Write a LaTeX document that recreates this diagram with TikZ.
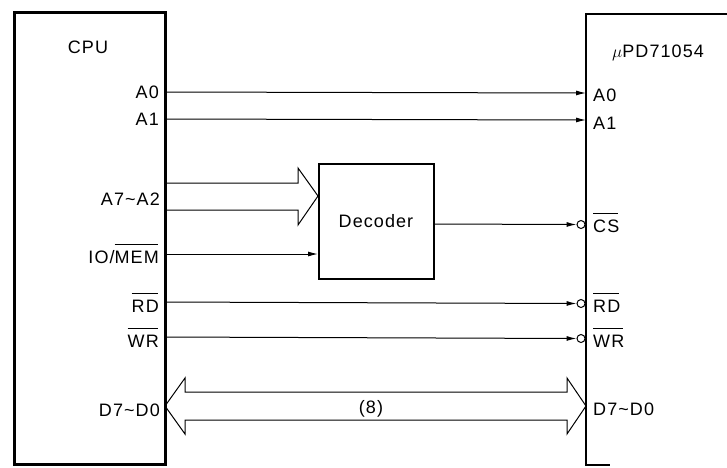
\documentclass[tikz,border=0pt]{standalone}
\usepackage{fontspec}
\setmainfont{Liberation Sans}[LetterSpace=6]
\usetikzlibrary{arrows.meta}
\newcommand\ovl[1]{\leavevmode\setbox0\hbox{#1}\rlap{\raisebox{18.5pt}{\rule{\dimexpr\wd0-1pt\relax}{0.9pt}}}\box0}
\begin{document}
\begin{tikzpicture}[x=1pt,y=-1pt,
  lbl/.style={inner sep=0pt, font=\fontsize{18}{21}\selectfont},
  boxline/.style={line width=2.6pt},
  sig/.style={line width=1pt, -{Latex[length=10pt,width=5pt]}},
  bus/.style={line width=1pt, line join=miter},
  bubble/.style={circle, draw, line width=1pt, minimum size=8pt, inner sep=0pt, fill=white}]
\useasboundingbox (0,0) rectangle (727,467);

% boxes
\node[draw, boxline, anchor=north west, minimum width=151pt, minimum height=452pt, inner sep=0pt] (cpu) at (13,11) {};
\node[draw, line width=2.3pt, anchor=north west, minimum width=115pt, minimum height=115pt, inner sep=0pt] (dec) at (318,163) {};
\coordinate (pdTop) at (586,14);
\coordinate (pdTR) at (727,14);
\coordinate (pdBot) at (586,465);
\coordinate (pdBR) at (610,465);
\draw[boxline] (pdTR) -- (pdTop) -- (pdBot) -- (pdBR);

% texts
\node[lbl, anchor=base] (tcpu) at (88,53) {CPU};
\node[lbl, anchor=base west] (tpd) at (612,57) {$\mu$PD71054};
\node[lbl, anchor=base] (tdec) at (376,227) {Decoder};
\node[lbl, anchor=base] (t8) at (371,413) {(8)};

\node[lbl, anchor=base east] (lA0) at (159,98) {A0};
\node[lbl, anchor=base east] (lA1) at (159,125) {A1};
\node[lbl, anchor=base east] (lA72) at (160,205) {A7\textasciitilde A2};
\node[lbl, anchor=base east] (lIO) at (159,263) {IO/\ovl{MEM}};
\node[lbl, anchor=base east] (lRD) at (159,312) {\ovl{RD}};
\node[lbl, anchor=base east] (lWR) at (159,347) {\ovl{WR}};
\node[lbl, anchor=base east] (lD) at (160,416) {D7\textasciitilde D0};

\node[lbl, anchor=base west] (rA0) at (593,101) {A0};
\node[lbl, anchor=base west] (rA1) at (593,129) {A1};
\node[lbl, anchor=base west] (rCS) at (593,232) {\ovl{CS}};
\node[lbl, anchor=base west] (rRD) at (593,312) {\ovl{RD}};
\node[lbl, anchor=base west] (rWR) at (593,347) {\ovl{WR}};
\node[lbl, anchor=base west] (rD) at (593,415) {D7\textasciitilde D0};

% pin coordinates
\coordinate (cA0) at (164,92);   \coordinate (pA0) at (586,93);
\coordinate (cA1) at (164,119);  \coordinate (pA1) at (586,120);
\coordinate (cIO) at (164,254);  \coordinate (dIO) at (318,254);
\coordinate (cRD) at (164,302);
\coordinate (cWR) at (164,337);
\coordinate (dOut) at (433,224);
\node[bubble] (bCS) at (581,224.5) {};
\node[bubble] (bRD) at (581,303.5) {};
\node[bubble] (bWR) at (581,338.5) {};

% signals
\draw[sig] (cA0) -- (pA0);
\draw[sig] (cA1) -- (pA1);
\draw[sig] (cIO) -- (dIO);
\draw[sig] (dOut) -- (bCS.west);
\draw[sig] (cRD) -- (bRD.west);
\draw[sig] (cWR) -- (bWR.west);

% address bus into decoder
\coordinate (ab1) at (164,183);
\coordinate (ab2) at (164,210);
\coordinate (abTip) at (318,196);
\draw[bus] (ab1) -- (298,183) -- (298,168) -- (abTip) -- (298,225) -- (298,210) -- (ab2);

% data bus
\coordinate (dbL) at (165,406);
\coordinate (dbR) at (586,406);
\draw[bus] (185,392) -- (567,392) -- (567,378) -- (dbR) -- (567,434) -- (567,420)
  -- (185,420) -- (185,434) -- (dbL) -- (185,378) -- cycle;
\end{tikzpicture}
\end{document}
